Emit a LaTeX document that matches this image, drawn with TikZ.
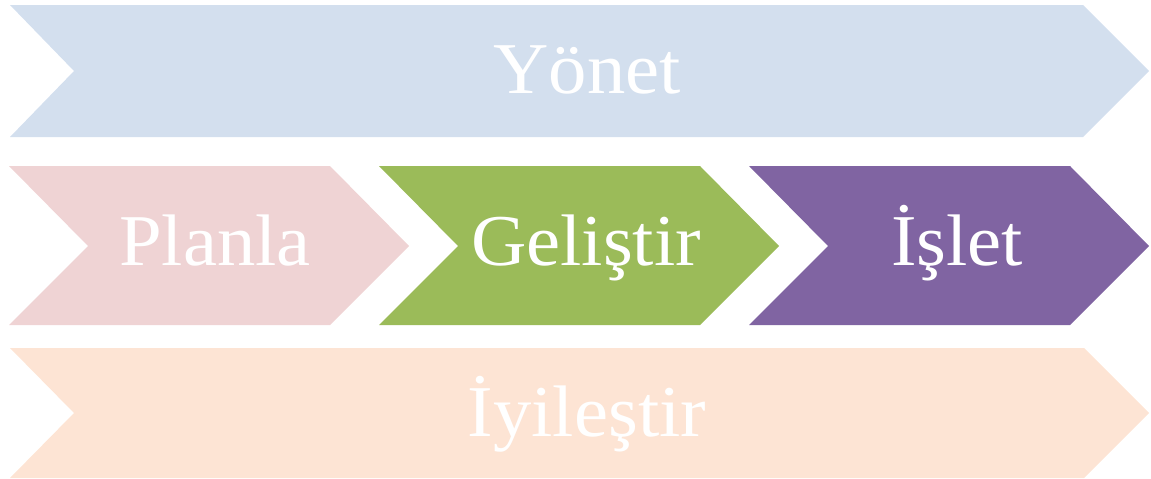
\documentclass[tikz,border=0pt]{standalone}
\usepackage{fontspec}
\setmainfont{Liberation Serif}
\definecolor{cblue}{HTML}{D3DFEE}
\definecolor{cpink}{HTML}{EFD3D4}
\definecolor{cgreen}{HTML}{9BBB59}
\definecolor{cpurple}{HTML}{8064A2}
\definecolor{cpeach}{HTML}{FDE4D4}
\tikzset{
  lbl/.style={text=white, anchor=base, inner sep=0pt, xscale=1.05, font=\fontsize{73}{80}\selectfont}
}
\begin{document}
\begin{tikzpicture}[x=1pt,y=-1pt]
\useasboundingbox (0,0) rectangle (1151,479);
% top
\fill[cblue] (10,5) -- (1083,5) -- (1149,71) -- (1083,137) -- (10,137) -- (74,71) -- cycle;
% middle
\fill[cpink] (9,166) -- (330,166) -- (409,246) -- (330,325) -- (9,325) -- (88,246) -- cycle;
\fill[cgreen] (379,166) -- (700,166) -- (779,246) -- (700,325) -- (379,325) -- (458,246) -- cycle;
\fill[cpurple] (749,166) -- (1070,166) -- (1149,246) -- (1070,325) -- (749,325) -- (828,246) -- cycle;
% bottom
\fill[cpeach] (10,348) -- (1084,348) -- (1149,413) -- (1084,478) -- (10,478) -- (74,413) -- cycle;
% labels
\node[lbl] (yonet) at (587,93) {Yönet};
\node[lbl] (planla) at (215,265) {Planla};
\node[lbl] (gelistir) at (586,265) {Geliştir};
\node[lbl] (islet) at (957,265) {İşlet};
\node[lbl] (iyilestir) at (587,436) {İyileştir};
\end{tikzpicture}
\end{document}
